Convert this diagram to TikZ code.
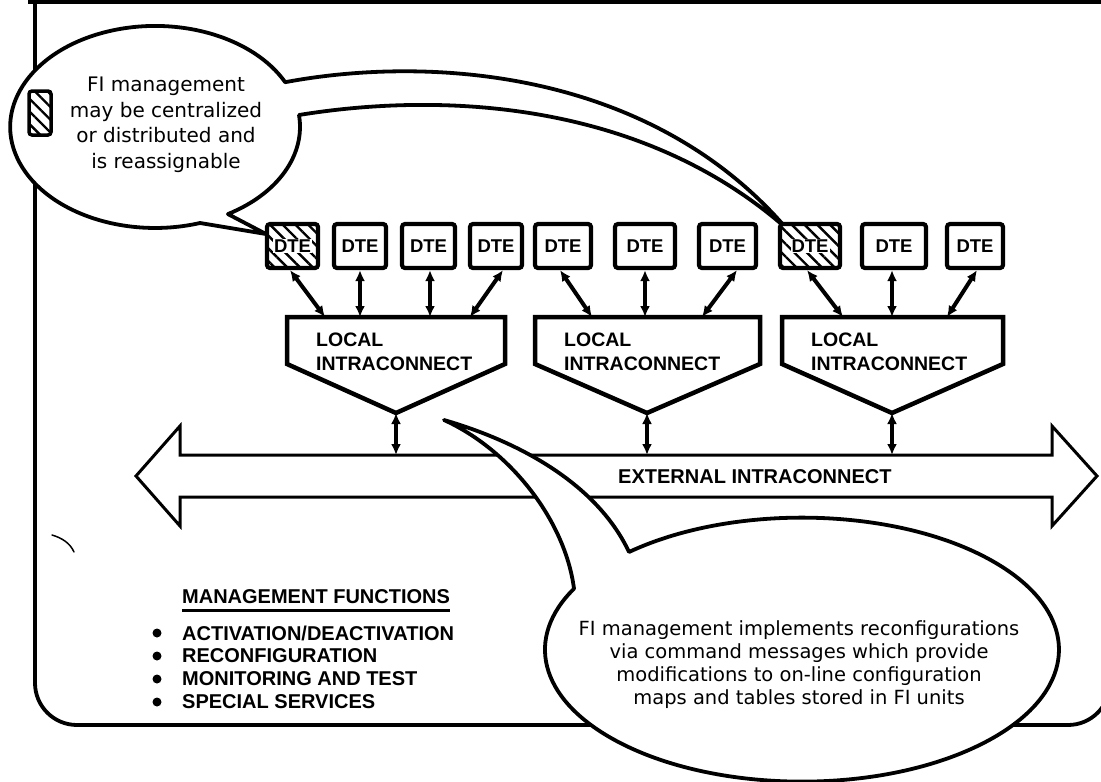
\documentclass[tikz,border=0pt]{standalone}
\usepackage{fontspec}
\setmainfont{DejaVu Sans}
\newfontfamily\capsfont{Liberation Sans}
\usetikzlibrary{arrows.meta,patterns.meta}
\begin{document}
\begin{tikzpicture}[x=1pt,y=-1pt,
  framestyle/.style={line width=3.8pt},
  dtebox/.style={draw, fill=white, line width=4.2pt, rounded corners=3pt, minimum height=44pt, inner sep=0pt, font=\capsfont\bfseries\fontsize{18.5}{18.5}\selectfont},
  hatch/.style={preaction={fill=white}, pattern={Lines[angle=-45,distance=9pt,line width=2.4pt]}},
  dtelabel/.style={fill=white, inner sep=1pt, font=\capsfont\bfseries\fontsize{18.5}{18.5}\selectfont},
  link/.style={line width=4pt, {Latex[length=11pt,width=10pt]}-{Latex[length=11pt,width=10pt]}},
  localshape/.style={draw, fill=white, line width=4.5pt, line join=miter},
  localtext/.style={anchor=west, inner sep=0pt, align=left, font=\capsfont\bfseries\fontsize{19.5}{23.5}\selectfont},
  callout/.style={draw, fill=white, line width=3.8pt, line join=round},
  callouttext/.style={align=center, inner sep=0pt},
  boldcaps/.style={inner sep=0pt, font=\capsfont\bfseries\fontsize{20}{23}\selectfont},
  bigarrow/.style={draw, fill=white, line width=3pt, line join=miter},
]
\useasboundingbox (0,0) rectangle (1101,782);
\clip (0,0) rectangle (1101,782);
\fill[white] (0,0) rectangle (1101,782);

% frame
\draw[line width=4pt] (28,2) -- (1101,2);
\draw[framestyle, rounded corners=42pt] (35,2) -- (35,725) -- (1110,725) -- (1110,2);
\draw[line width=1.5pt, line cap=round] (52,535) .. controls (62,538) and (70,543) .. (74,552);

% external intraconnect arrow
\draw[bigarrow] (136,476) -- (180,426) -- (180,455) -- (1052,455) -- (1052,426) -- (1097,476)
  -- (1052,526) -- (1052,497) -- (180,497) -- (180,526) -- cycle;
\node[boldcaps, anchor=west] (ext) at (618,477) {EXTERNAL INTRACONNECT};

% top-left callout
\draw[callout] (299,115) arc[start angle=-6.7, end angle=59.8, x radius=145, y radius=101]
  -- (266,234) -- (200,223) arc[start angle=72, end angle=333.7, x radius=145, y radius=101]
  .. controls (430,55) and (650,70) .. (786,228)
  .. controls (640,100) and (440,92) .. (299,115) -- cycle;
\node[draw, line width=3.5pt, rounded corners=3pt, hatch, minimum width=22pt, minimum height=44pt, inner sep=0pt] (legend) at (40,113) {};
\node[callouttext, font=\fontsize{20}{25.5}\selectfont] (note1) at (166,125) {FI management\\may be centralized\\or distributed and\\is reassignable};

% bottom-right callout
\draw[callout] (629,552) arc[start angle=-132.3, end angle=207.5, x radius=257, y radius=132]
  .. controls (565,520) and (510,450) .. (444,420)
  .. controls (530,445) and (600,490) .. (629,552) -- cycle;
\node[callouttext, font=\fontsize{19.5}{23}\selectfont] (note2) at (799,665) {FI management implements reconfigurations\\via command messages which provide\\modifications to on-line configuration\\maps and tables stored in FI units};

% local intraconnects
\draw[localshape] (287,317) -- (505,317) -- (505,364) -- (396,413) -- (287,364) -- cycle;
\draw[localshape] (535,317) -- (760,317) -- (760,364) -- (647,413) -- (535,364) -- cycle;
\draw[localshape] (782,317) -- (1003,317) -- (1003,364) -- (892,413) -- (782,364) -- cycle;
\node[localtext] (L1) at (316,352) {LOCAL\\INTRACONNECT};
\node[localtext] (L2) at (564,352) {LOCAL\\INTRACONNECT};
\node[localtext] (L3) at (811,352) {LOCAL\\INTRACONNECT};
\coordinate (L1a) at (325,317); \coordinate (L1b) at (360,317); \coordinate (L1c) at (430,317); \coordinate (L1d) at (470,317);
\coordinate (L2a) at (592,317); \coordinate (L2b) at (645,317); \coordinate (L2c) at (702,317);
\coordinate (L3a) at (843,317); \coordinate (L3b) at (892,317); \coordinate (L3c) at (947,317);
\coordinate (L1p) at (396,413); \coordinate (L2p) at (647,413); \coordinate (L3p) at (892,413);
\coordinate (E1) at (396,455); \coordinate (E2) at (647,455); \coordinate (E3) at (892,455);

% DTE boxes
\node[dtebox, hatch, minimum width=51pt] (d1) at (292.5,246) {};
\node[dtelabel] at (d1) {DTE};
\node[dtebox, minimum width=52pt] (d2) at (360,246) {DTE};
\node[dtebox, minimum width=53pt] (d3) at (428.5,246) {DTE};
\node[dtebox, minimum width=52pt] (d4) at (496,246) {DTE};
\node[dtebox, minimum width=56pt] (d5) at (563,246) {DTE};
\node[dtebox, minimum width=60pt] (d6) at (645,246) {DTE};
\node[dtebox, minimum width=57pt] (d7) at (727.5,246) {DTE};
\node[dtebox, hatch, minimum width=60pt] (d8) at (810,246) {};
\node[dtelabel] at (d8) {DTE};
\node[dtebox, minimum width=64pt] (d9) at (894,246) {DTE};
\node[dtebox, minimum width=56pt] (d10) at (975,246) {DTE};

% connectors
\draw[link] ([xshift=-2.5pt]d1.south) -- (L1a);
\draw[link] (d2.south) -- (L1b);
\draw[link] ([xshift=1.5pt]d3.south) -- (L1c);
\draw[link] ([xshift=7pt]d4.south) -- (L1d);
\draw[link] ([xshift=-3pt]d5.south) -- (L2a);
\draw[link] (d6.south) -- (L2b);
\draw[link] ([xshift=9.5pt]d7.south) -- (L2c);
\draw[link] ([xshift=-3pt]d8.south) -- (L3a);
\draw[link] ([xshift=-2pt]d9.south) -- (L3b);
\draw[link] ([xshift=2pt]d10.south) -- (L3c);
\draw[link] (L1p) -- (E1);
\draw[link] (L2p) -- (E2);
\draw[link] (L3p) -- (E3);

% management functions list
\node[boldcaps, anchor=west] (mf) at (182,597) {MANAGEMENT FUNCTIONS};
\draw[line width=2.5pt] ([yshift=-6pt]mf.south west) -- ([yshift=-6pt]mf.south east);
\node[boldcaps, anchor=west] (f1) at (182,633) {ACTIVATION/DEACTIVATION};
\node[boldcaps, anchor=west] (f2) at (182,656) {RECONFIGURATION};
\node[boldcaps, anchor=west] (f3) at (182,679) {MONITORING AND TEST};
\node[boldcaps, anchor=west] (f4) at (182,702) {SPECIAL SERVICES};
\foreach \y in {633,656,679,702} \fill (157,\y) circle (4.5pt);
\end{tikzpicture}
\end{document}
